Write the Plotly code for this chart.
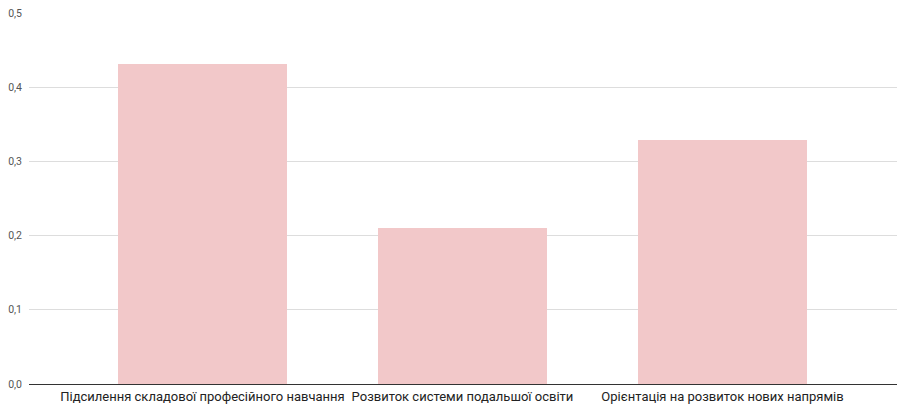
import plotly.graph_objects as go

categories = ["Підсилення складової професійного навчання",
              "Розвиток системи подальшої освіти",
              "Орієнтація на розвиток нових напрямів"]
values = [0.431, 0.21, 0.329]
tick_vals = [0.0, 0.1, 0.2, 0.3, 0.4, 0.5]
tick_text = ["0,0", "0,1", "0,2", "0,3", "0,4", "0,5"]

fig = go.Figure(go.Bar(
    x=[0, 1, 2], y=values, width=0.65,
    marker=dict(color="#f2c8c9", line=dict(width=0)),
))

fig.update_layout(
    width=899, height=409,
    margin=dict(l=29, r=2, t=13, b=25),
    paper_bgcolor="white", plot_bgcolor="white",
    font=dict(family="Roboto, Arial, sans-serif"),
    showlegend=False,
    bargap=0,
)
fig.update_xaxes(
    range=[-0.667, 2.671],
    tickvals=[0, 1, 2], ticktext=categories,
    tickfont=dict(size=13, color="#222222"),
    showgrid=False, zeroline=False,
    showline=True, linecolor="#333333", linewidth=1.3,
    ticks="", ticklen=0,
)
fig.update_yaxes(
    range=[0, 0.5],
    tickvals=tick_vals, ticktext=tick_text,
    tickfont=dict(size=10.5, color="#555555"),
    showgrid=True, gridcolor="#dddddd", gridwidth=1,
    zeroline=False, showline=False,
    ticks="", ticklabelstandoff=6,
)

fig.write_html("out.html")
